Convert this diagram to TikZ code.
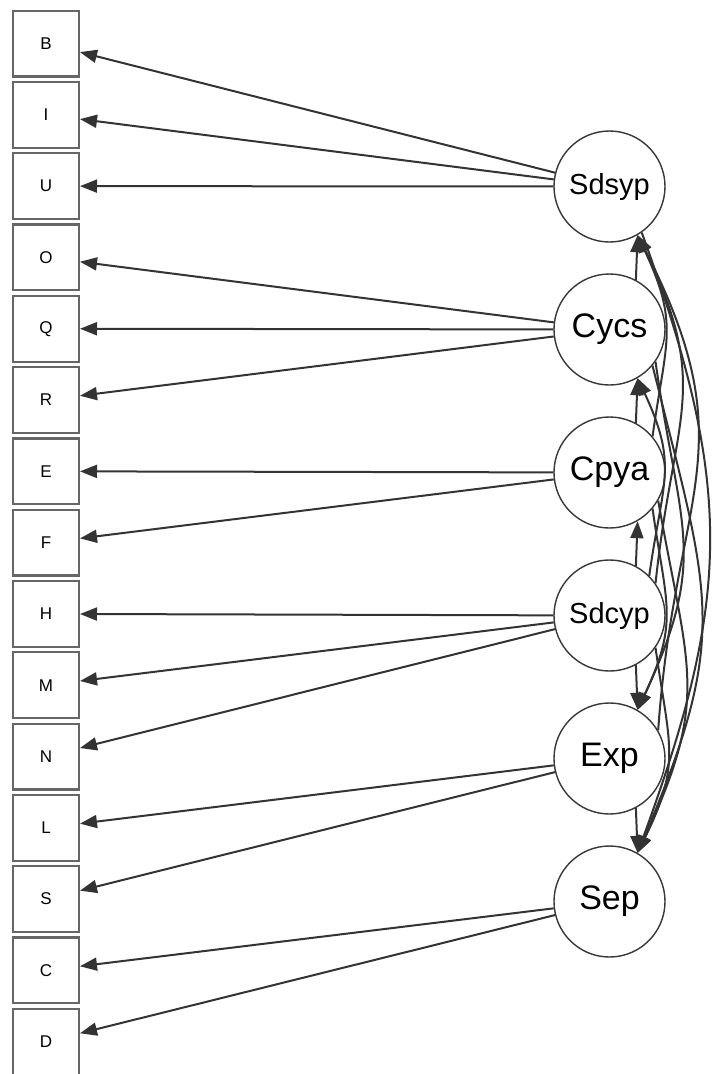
\documentclass[tikz,border=0pt]{standalone}
\usepackage{fontspec}
\setmainfont{Liberation Sans}
\usetikzlibrary{positioning,arrows.meta}

\begin{document}
\begin{tikzpicture}[x=1pt,y=1pt,
    item/.style={draw=black!60,line width=2.2pt,fill=white,minimum width=65.8pt,
      minimum height=65.8pt,inner sep=0pt,font=\fontsize{17}{20}\selectfont},
    factor/.style={circle,draw=black!78,line width=1.4pt,fill=white,minimum size=111pt,
      inner sep=0pt,font=\fontsize{34}{40}\selectfont},
    longname/.style={font=\fontsize{29}{34}\selectfont},
    load/.style={draw=black!80,line width=2pt,-{Triangle[length=17pt,width=13pt]}},
    cov/.style={load,looseness=1.25},
    node distance=3.3pt]
    \useasboundingbox[fill=white] (0,0) rectangle (715,-1074);

    % indicators
    \node[item] (b) at (46,-43.5) {B};
    \node[item,below=of b] (i) {I};
    \node[item,below=of i] (u) {U};
    \node[item,below=of u] (o) {O};
    \node[item,below=of o] (q) {Q};
    \node[item,below=of q] (r) {R};
    \node[item,below=of r] (e) {E};
    \node[item,below=of e] (f) {F};
    \node[item,below=of f] (h) {H};
    \node[item,below=of h] (m) {M};
    \node[item,below=of m] (n) {N};
    \node[item,below=of n] (l) {L};
    \node[item,below=of l] (s) {S};
    \node[item,below=of s] (c) {C};
    \node[item,below=of c] (d) {D};

    % factors
    \node[factor,longname] (sdsyp) at (609.5,-186.5) {Sdsyp};
    \node[factor] (cycs) at (609.5,-329.5) {Cycs};
    \node[factor] (cpya) at (609.5,-472.5) {Cpya};
    \node[factor,longname] (sdcyp) at (609.5,-615.5) {Sdcyp};
    \node[factor] (exp) at (609.5,-758.5) {Exp};
    \node[factor] (sep) at (609.5,-901.5) {Sep};

    % loadings
    \draw[load] (sdsyp) -- (b);
    \draw[load] (sdsyp) -- (i);
    \draw[load] (sdsyp) -- (u);
    \draw[load] (cycs) -- (o);
    \draw[load] (cycs) -- (q);
    \draw[load] (cycs) -- (r);
    \draw[load] (cpya) -- (e);
    \draw[load] (cpya) -- (f);
    \draw[load] (sdcyp) -- (h);
    \draw[load] (sdcyp) -- (m);
    \draw[load] (sdcyp) -- (n);
    \draw[load] (exp) -- (l);
    \draw[load] (exp) -- (s);
    \draw[load] (sep) -- (c);
    \draw[load] (sep) -- (d);

    % covariances
    \draw[load] (cycs.62) -- (sdsyp.-60);
    \draw[cov] (cpya.40) to[out=82,in=-65] (sdsyp.-60);
    \draw[cov] (sdcyp.35) to[out=84,in=-64] (sdsyp.-60);
    \draw[cov] (exp.30) to[out=86,in=-63] (sdsyp.-60);
    \draw[load] (cpya.62) -- (cycs.-60);
    \draw[cov] (sdcyp.45) to[out=82,in=-65] (cycs.-60);
    \draw[load] (sdcyp.62) -- (cpya.-60);
    \draw[load] (sdcyp.-62) -- (exp.60);
    \draw[cov] (cycs.-35) to[out=-82,in=65] (exp.60);
    \draw[cov] (cpya.-40) to[out=-82,in=65] (exp.60);
    \draw[load] (exp.-62) -- (sep.60);
    \draw[load,looseness=1.12] (sdsyp.-55) to[out=-70,in=70] (sep.60);
    \draw[cov] (cycs.-40) to[out=-76,in=67] (sep.60);
    \draw[cov] (cpya.-30) to[out=-80,in=65] (sep.60);
    \draw[cov] (sdcyp.-35) to[out=-82,in=64] (sep.60);
\end{tikzpicture}
\end{document}
